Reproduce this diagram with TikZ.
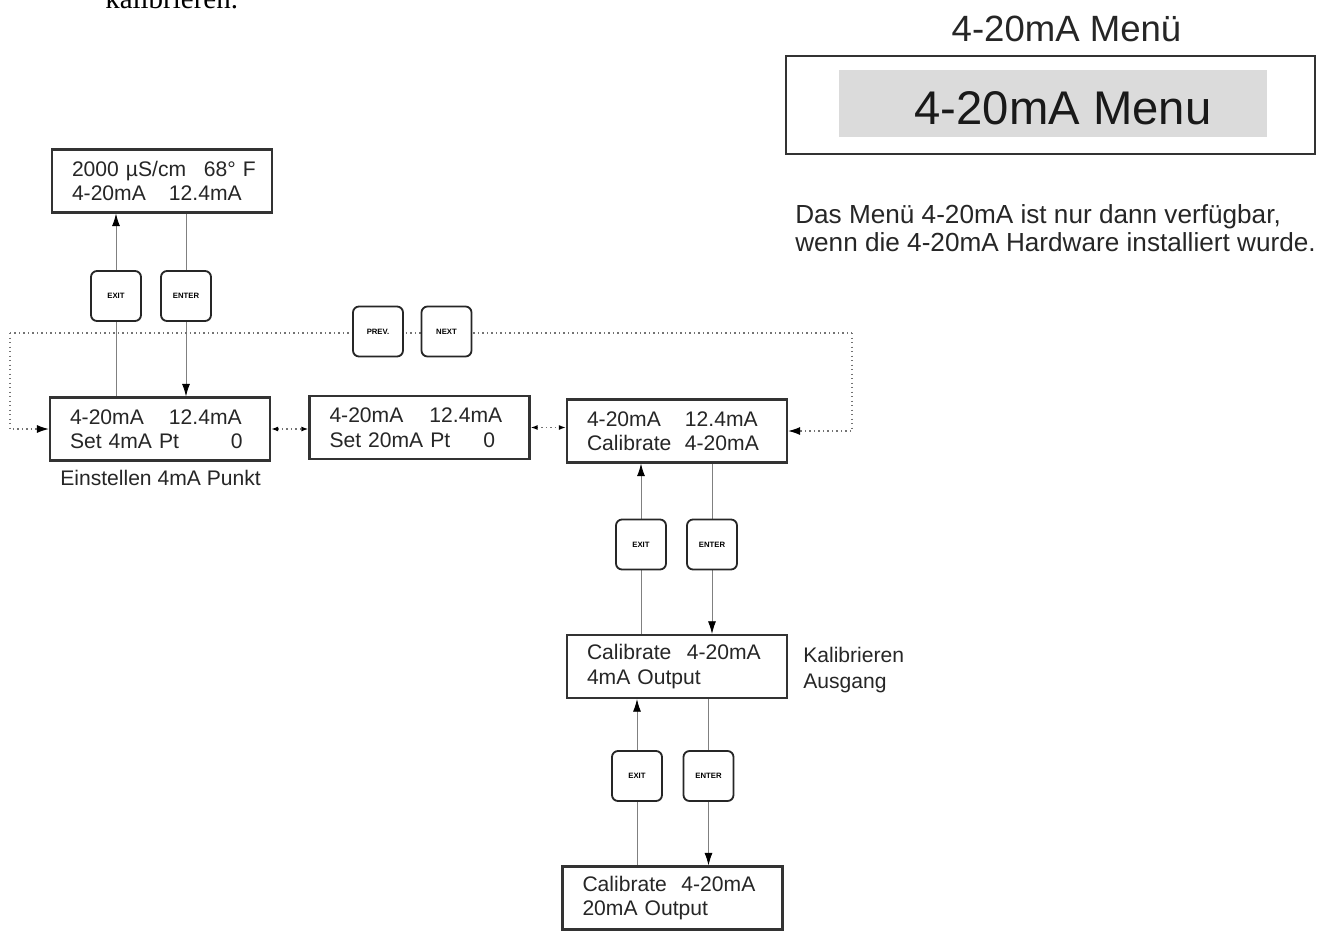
\documentclass[tikz,border=0pt]{standalone}
\usepackage{fontspec}
\setmainfont{Liberation Sans}
\newfontfamily\kalfont{Liberation Serif}
\usetikzlibrary{arrows.meta,backgrounds}
\newlength\pxu
\setlength\pxu{0.025cm}
\newcommand{\lcdfont}{\fontsize{15}{17.4}\selectfont}
\newcommand{\keyfont}{\fontsize{5.5}{6}\selectfont\bfseries}
\newcommand{\lcdcol}[2]{\makebox[#1\pxu][l]{#2}}

\tikzset{
  lcd/.style={draw=black!80, line width=1.5pt, fill=white, text=black!85, text width=180\pxu,
    inner xsep=20\pxu, inner ysep=0pt, minimum height=63\pxu, align=left, font=\lcdfont},
  btn/.style={draw=black!85, line width=1.3pt, rounded corners=6\pxu, fill=white,
    minimum size=50\pxu, inner sep=0pt, font=\keyfont},
  flow/.style={draw=black!50, line width=0.6pt, -{Latex[length=9pt,width=5.7pt,color=black]}},
  navloop/.style={draw=black!55, line width=1pt, dash pattern=on 1pt off 2.2pt},
  navtip/.style={-{Latex[length=8.5pt,width=5.7pt,color=black]}},
  navboth/.style={{Latex[length=5pt,width=3.5pt,color=black]}-{Latex[length=5pt,width=3.5pt,color=black]}},
}

\begin{document}
\begin{tikzpicture}[x=0.025cm,y=-0.025cm]
	\useasboundingbox (0,0) rectangle (1335,930);

	% end of the text above
	\node[font=\kalfont\fontsize{20.6}{24}\selectfont, anchor=base west, inner sep=0pt] (kal) at (105,8) {kalibrieren.};

	% displays
	\node[lcd] (stat)  at (162,181)   {\mbox{\lcdcol{132}{2000 µS/cm}68° F}\\\lcdcol{97}{4-20mA}12.4mA};
	\node[lcd] (set4)  at (160,429)   {\lcdcol{99}{4-20mA}12.4mA\\\lcdcol{161}{Set 4mA Pt}0};
	\node[lcd] (set20) at (419.5,427.5) {\lcdcol{100}{4-20mA}12.4mA\\\lcdcol{154}{Set 20mA Pt}0};
	\node[lcd] (cal)   at (677,431)   {\lcdcol{98}{4-20mA}12.4mA\\\lcdcol{98}{Calibrate}4-20mA};
	\node[lcd] (out4)  at (677,666.5) {\lcdcol{100}{Calibrate}4-20mA\\4mA Output};
	\node[lcd] (out20) at (672.5,898) {\lcdcol{99}{Calibrate}4-20mA\\20mA Output};

	% keys
	\node[btn] (exA)  at (116,296)     {EXIT};
	\node[btn] (enA)  at (186,296)     {ENTER};
	\node[btn] (prev) at (378,331.5)   {PREV.};
	\node[btn] (next) at (446.5,331.5) {NEXT};
	\node[btn] (exB)  at (641,544.5)   {EXIT};
	\node[btn] (enB)  at (712,544.5)   {ENTER};
	\node[btn] (exC)  at (637,776)     {EXIT};
	\node[btn] (enC)  at (708.5,776)   {ENTER};

	\begin{scope}[on background layer]
		\draw[flow] (set4.north -| exA) -- (stat.south -| exA);
		\draw[flow] (stat.south -| enA) -- (set4.north -| enA);
		\draw[flow] (out4.north -| exB) -- (cal.south -| exB);
		\draw[flow] (cal.south -| enB) -- (out4.north -| enB);
		\draw[flow] (out20.north -| exC) -- (out4.south -| exC);
		\draw[flow] (out4.south -| enC) -- (out20.north -| enC);

		\coordinate (lt) at (10,333); \coordinate (rt) at (852,333);
		\draw[navloop] (lt) -- (rt);
		\draw[navloop,navtip] (lt) |- (set4.west);
		\draw[navloop,navtip] (rt) |- (cal.east);
		\draw[navloop,navboth] (set4.east) -- (set4.east -| set20.west);
		\draw[navloop,navboth] (set20.east) -- (set20.east -| cal.west);
	\end{scope}

	\node[font=\lcdfont, text=black!85, anchor=base west, inner sep=0pt] (lbl4) at (60,485) {Einstellen 4mA Punkt};
	\node[font=\fontsize{15}{17.8}\selectfont, text=black!85, align=left, anchor=base west, inner sep=0pt] (lblcal) at (803,688) {Kalibrieren\\Ausgang};

	% menu title
	\node[font=\fontsize{26}{30}\selectfont, text=black!85, anchor=base, inner sep=0pt] (ttl) at (1066.5,41) {4-20mA Menü};
	\node[draw=black!80, line width=1.5pt, minimum width=529\pxu, minimum height=98\pxu, inner sep=0pt] (menu) at (1050.5,105) {};
	\node[fill=black!14, minimum width=428\pxu, minimum height=67\pxu, inner sep=0pt] (menubar) at (1053,103.5) {};
	\node[font=\fontsize{33.6}{36}\selectfont, text=black!90, anchor=base, inner sep=0pt] (menutxt) at (1063,124) {4-20mA Menu};
	\node[font=\fontsize{18.6}{19.9}\selectfont, text=black!85, align=left, anchor=base west, inner sep=0pt] (note) at (795,251)
		{Das Menü 4-20mA ist nur dann verfügbar,\\wenn die 4-20mA Hardware installiert wurde.};
\end{tikzpicture}
\end{document}
